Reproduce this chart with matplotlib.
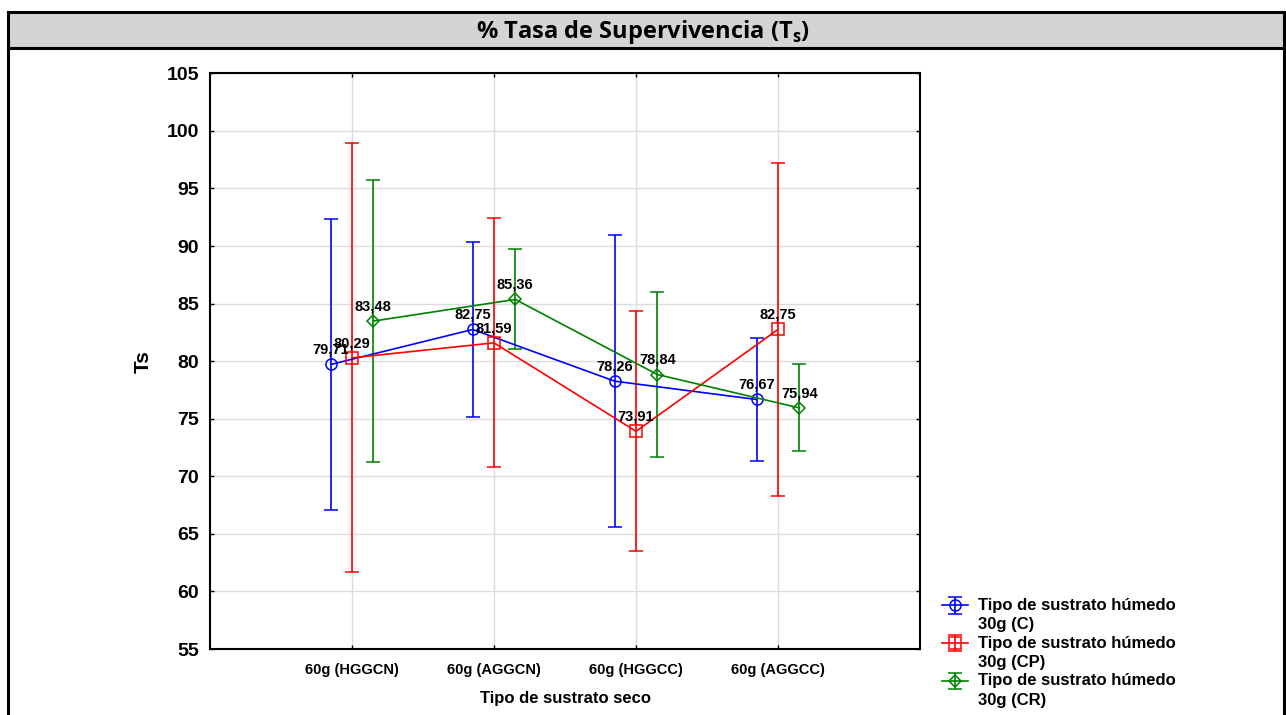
import matplotlib
matplotlib.use("Agg")
import matplotlib.pyplot as plt
import numpy as np
from matplotlib.patches import Rectangle
from matplotlib.lines import Line2D
from matplotlib.transforms import Affine2D

# ---- data ----
categories = ["60g (HGGCN)", "60g (AGGCN)", "60g (HGGCC)", "60g (AGGCC)"]
series_names = ["Tipo de sustrato húmedo\n30g (C)",
                "Tipo de sustrato húmedo\n30g (CP)",
                "Tipo de sustrato húmedo\n30g (CR)"]
mean_c = [79.71, 82.75, 78.26, 76.67]
mean_cp = [80.29, 81.59, 73.91, 82.75]
mean_cr = [83.48, 85.36, 78.84, 75.94]
low_c = [67.07, 75.12, 65.57, 71.35]
high_c = [92.35, 90.38, 90.96, 81.98]
low_cp = [61.69, 70.78, 63.51, 68.26]
high_cp = [98.92, 92.41, 84.36, 97.21]
low_cr = [71.24, 81.03, 71.65, 72.17]
high_cr = [95.73, 89.71, 86.03, 79.73]
y_ticks = [55, 60, 65, 70, 75, 80, 85, 90, 95, 100, 105]

means = [mean_c, mean_cp, mean_cr]
lows = [low_c, low_cp, low_cr]
highs = [high_c, high_cp, high_cr]
colors = ["#0000ff", "#ff0000", "#008000"]
markers = ["o", "s", "D"]
msizes = [8, 8, 6]
offsets = [-0.15, 0.0, 0.15]

plt.rcParams["font.family"] = ["Liberation Sans", "DejaVu Sans"]
plt.rcParams["font.weight"] = "bold"
plt.rcParams["mathtext.fontset"] = "custom"
plt.rcParams["mathtext.bf"] = "Open Sans:bold"
plt.rcParams["mathtext.rm"] = "Open Sans:bold"

W, H = 1286, 715
fig = plt.figure(figsize=(W / 100, H / 100), dpi=100)

# outer frame and title band
band = Rectangle((8 / W, 1 - 48 / H), (1284 - 8) / W, 36 / H,
                 transform=fig.transFigure, facecolor="#d4d4d4",
                 edgecolor="none", zorder=0)
fig.patches.append(band)
for (x0, y0, x1, y1) in [(8, 12, 1284, 12), (8, 48, 1284, 48),
                         (8, 12, 8, 715), (1284, 12, 1284, 715)]:
    fig.add_artist(Line2D([x0 / W, x1 / W], [1 - y0 / H, 1 - y1 / H],
                          transform=fig.transFigure, color="black",
                          linewidth=2.2, solid_capstyle="projecting"))
fig.text(0.5, 1 - 32 / H, r"% Tasa de Supervivencia (T$_{\mathbf{s}}$)",
         ha="center", va="center", fontsize=17, fontweight="bold",
         family="Open Sans")

ax = fig.add_axes([210 / W, 1 - 649 / H, (920 - 210) / W, (649 - 73.3) / H])

x = np.arange(1, len(categories) + 1)
handles = []
for m, lo, hi, c, mk, ms, off, name in zip(means, lows, highs, colors,
                                            markers, msizes, offsets, series_names):
    m = np.asarray(m)
    yerr = np.vstack([m - np.asarray(lo), np.asarray(hi) - m])
    xs = x + off
    h = ax.errorbar(xs, m, yerr=yerr, color=c, marker=mk, markersize=ms,
                    markerfacecolor="none", markeredgecolor=c,
                    markeredgewidth=1.1, linewidth=1.2, elinewidth=1.2,
                    capsize=5, capthick=1.2, label=name, zorder=3)
    handles.append(h)
    for xi, yi in zip(xs, m):
        ax.annotate(f"{yi:.2f}".replace(".", ","), (xi, yi),
                    xytext=(0, 5.5), textcoords="offset points",
                    ha="center", va="bottom", fontsize=10.5,
                    fontweight="bold", zorder=4)

ax.set_xlim(0, 5)
ax.set_ylim(55, 105)
ax.set_xticks(x)
ax.set_xticklabels(categories, fontsize=10.5, fontweight="bold")
ax.set_yticks(y_ticks)
ax.set_yticklabels([str(t) for t in y_ticks], fontsize=14, fontweight="bold")
ax.tick_params(direction="in", length=3, width=1, top=True, right=True, pad=8)
ax.tick_params(axis="x", pad=10)
ax.grid(True, color="#dcdcdc", linewidth=1)
ax.set_axisbelow(True)
for s in ax.spines.values():
    s.set_linewidth(1.5)

ax.set_xlabel("Tipo de sustrato seco", fontsize=12, fontweight="bold", labelpad=10)
ax.set_ylabel("Ts", fontsize=15, fontweight="bold", labelpad=10)

leg = fig.legend(handles=handles, labels=series_names, loc="upper left",
                 bbox_to_anchor=(930 / W, 1 - 586 / H), frameon=False,
                 handlelength=1.6, handletextpad=0.6,
                 labelspacing=0.22, borderpad=0.2,
                 prop={"weight": "bold", "size": 12})
for t in leg.get_texts():
    t.set_linespacing(1.35)

# put each legend symbol beside the first line of its two-line label
for col in leg._legend_handle_box.get_children():
    for row in col.get_children():
        da = row.get_children()[0]
        for art in da.get_children():
            art.set_transform(Affine2D().translate(0, 7) + art.get_transform())

fig.savefig("out.png", dpi=100)
